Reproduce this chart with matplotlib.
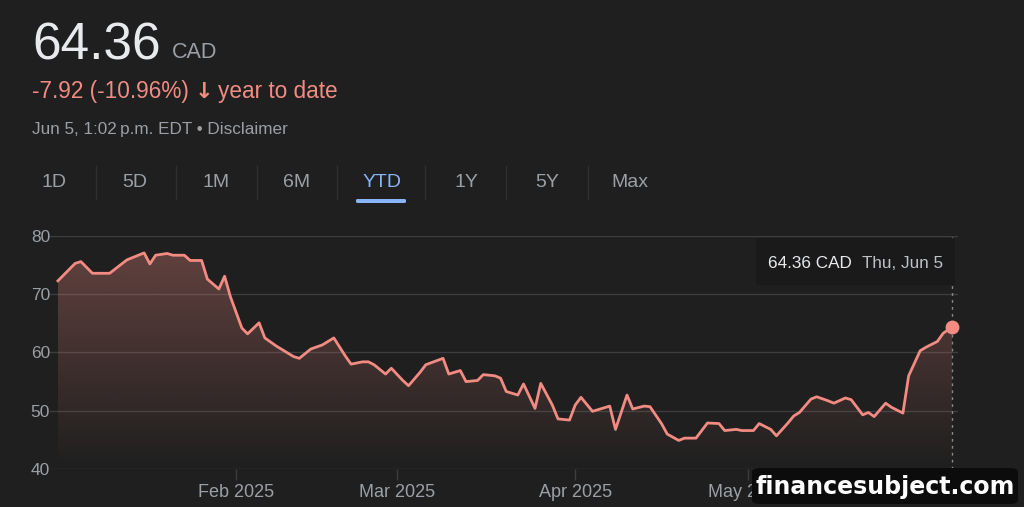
import matplotlib
matplotlib.use("Agg")
from matplotlib import pyplot as plt
from matplotlib.patches import FancyBboxPatch
import matplotlib.dates as mdates
import numpy as np
from datetime import datetime

# price trace (CAD); last point is the 1:02 p.m. quote
dates = [
    "01-01", "01-04", "01-05", "01-07", "01-10", "01-13", "01-16", "01-17", "01-18",
    "01-20", "01-21", "01-23", "01-24", "01-26", "01-27", "01-29", "01-30", "01-31",
    "02-02", "02-03", "02-05", "02-06", "02-08", "02-11", "02-12", "02-14", "02-16",
    "02-18", "02-20", "02-21", "02-23", "02-24", "02-25", "02-27", "02-28",
    "03-02", "03-03", "03-05", "03-06", "03-09", "03-10", "03-12", "03-13", "03-15",
    "03-16", "03-18", "03-19", "03-20", "03-22", "03-23", "03-25", "03-26", "03-28",
    "03-29", "03-31",
    "04-01", "04-02", "04-04", "04-07", "04-08", "04-10", "04-11", "04-13", "04-14",
    "04-16", "04-17", "04-19", "04-20", "04-22", "04-23", "04-24", "04-26", "04-27",
    "04-29", "04-30",
    "05-02", "05-03", "05-05", "05-06", "05-08", "05-09", "05-10", "05-12", "05-13",
    "05-15", "05-16", "05-18", "05-19", "05-21", "05-22", "05-23", "05-25", "05-26",
    "05-28", "05-29", "05-31",
    "06-01", "06-03", "06-04", "06-05 13:02",
]
prices = [
    72.3, 75.3, 75.6, 73.6, 73.6, 75.9, 77.1, 75.2, 76.7,
    77.0, 76.7, 76.7, 75.8, 75.8, 72.6, 70.9, 73.1, 69.6,
    64.2, 63.2, 65.1, 62.5, 61.1, 59.3, 59.0, 60.6, 61.3,
    62.5, 59.4, 58.0, 58.4, 58.4, 57.9, 56.3, 57.3,
    55.2, 54.3, 56.6, 57.9, 59.0, 56.3, 56.9, 55.0, 55.2,
    56.2, 56.0, 55.6, 53.3, 52.7, 54.6, 50.4, 54.7, 51.0,
    48.6, 48.4,
    51.0, 52.3, 49.9, 50.8, 46.8, 52.7, 50.3, 50.8, 50.7,
    47.8, 46.0, 44.9, 45.3, 45.3, 46.6, 47.9, 47.8, 46.6,
    46.8, 46.6,
    46.6, 47.8, 46.8, 45.7, 47.9, 49.1, 49.7, 52.0, 52.4,
    51.7, 51.3, 52.2, 51.9, 49.3, 49.7, 49.0, 51.3, 50.6,
    49.6, 56.0, 60.3,
    60.9, 61.9, 63.3, 64.36,
]
yticks = [40, 50, 60, 70, 80]
month_ticks = ["2025-02-01", "2025-03-01", "2025-04-01", "2025-05-01", "2025-06-01"]
month_labels = ["Feb 2025", "Mar 2025", "Apr 2025", "May 2025", "Jun 2025"]
tabs = ["1D", "5D", "1M", "6M", "YTD", "1Y", "5Y", "Max"]
tab_x = [54, 135, 216, 297, 382, 466, 547, 630]

BG = "#1f1f1f"
RED = "#f28b82"
GREY = "#9aa0a6"
WHITE = "#e8eaed"
FONT = ["Liberation Sans", "DejaVu Sans"]
W, H = 1024, 507


def parse(d):
    fmt = "%Y-%m-%d %H:%M" if " " in d else "%Y-%m-%d"
    return datetime.strptime("2025-" + d, fmt)


xn = mdates.date2num([parse(d) for d in dates])


def fx(px):
    return px / W


def fy(py):
    return 1 - py / H


fig = plt.figure(figsize=(W / 100, H / 100), dpi=100, facecolor=BG)

# header
fig.text(fx(32), fy(60), "64.36", color=WHITE, fontsize=37, family=FONT, va="baseline")
fig.text(fx(172), fy(58), "CAD", color=GREY, fontsize=15.5, family=FONT, va="baseline")
fig.text(fx(32), fy(98), "-7.92 (-10.96%)", color=RED, fontsize=16.3, family=FONT,
         va="baseline")
fig.text(fx(195), fy(98), "\u2193", color=RED, fontsize=16, fontweight="bold",
         family=["DejaVu Sans"], va="baseline")
fig.text(fx(218), fy(98), "year to date", color=RED, fontsize=16.3, family=FONT,
         va="baseline")
fig.text(fx(32), fy(134), "Jun 5, 1:02\u2009p.m. EDT \u2022 Disclaimer", color=GREY,
         fontsize=12.3, family=FONT, va="baseline")

# range tabs
for lbl, tx in zip(tabs, tab_x):
    c = "#8ab4f8" if lbl == "YTD" else GREY
    fig.text(fx(tx), fy(182), lbl, color=c, fontsize=14, family=FONT,
             ha="center", va="center")
for sx in [96, 176, 257, 337, 425, 506, 588]:
    fig.add_artist(plt.Line2D([fx(sx), fx(sx)], [fy(166), fy(199)],
                              color="#2e2f31", lw=1))
fig.add_artist(FancyBboxPatch((fx(356), fy(203)), fx(50), 4 / H,
                              boxstyle="round,pad=0,rounding_size=0.002",
                              fc="#8ab4f8", ec="none"))

# chart
xlim = (datetime(2024, 12, 30, 15), datetime(2025, 6, 6, 14))
ax = fig.add_axes([fx(50), fy(469), fx(908), 233 / H])
ax.set_facecolor(BG)
for s in ax.spines.values():
    s.set_visible(False)
ax.set_yticks(yticks)
ax.yaxis.grid(True, color="#3d3d3d", lw=1)
ax.set_axisbelow(True)
ax.tick_params(axis="y", length=0, pad=0, labelsize=12.5, labelcolor=GREY)
ax.set_xticks(mdates.date2num([datetime.strptime(d, "%Y-%m-%d") for d in month_ticks]))
ax.set_xticklabels(month_labels)
ax.tick_params(axis="x", length=8, width=1, color="#3d3d3d", direction="out",
               pad=3, labelsize=13, labelcolor=GREY)
for t in ax.get_xticklabels() + ax.get_yticklabels():
    t.set_family(FONT)

# gradient fill under the line
poly = ax.fill_between(xn, prices, 40, color="none", lw=0)
grad = np.zeros((256, 1, 4))
grad[:, :, :3] = matplotlib.colors.to_rgb(RED)
grad[:, 0, 3] = np.linspace(0.0, 0.32, 256)
im = ax.imshow(grad, aspect="auto", origin="lower",
               extent=[xn[0], xn[-1], 40, 78], zorder=1)
im.set_clip_path(poly.get_paths()[0], transform=ax.transData)
ax.set_xlim(*xlim)
ax.set_ylim(40, 80)

ax.plot(xn, prices, color=RED, lw=2, zorder=3, solid_joinstyle="round")
ax.axvline(xn[-1], color="#8a8a8a", lw=1, ls=(0, (2, 3)), zorder=2)
ax.plot(xn[-1], prices[-1], "o", ms=10, color=RED, mec="none", zorder=4,
        clip_on=False)

# tooltip
fig.add_artist(FancyBboxPatch((fx(756), fy(285)), fx(199), 47 / H,
                              boxstyle="round,pad=0,rounding_size=0.004",
                              fc="#1a1a1a", ec="none", zorder=5))
fig.text(fx(768), fy(263), "64.36 CAD", color=WHITE, fontsize=12.3, family=FONT,
         va="center", zorder=6)
fig.text(fx(943), fy(263), "Thu, Jun 5", color="#bdc1c6", fontsize=12.3, family=FONT,
         va="center", ha="right", zorder=6)

# watermark
fig.add_artist(FancyBboxPatch((fx(752), fy(504)), fx(266), 36 / H,
                              boxstyle="round,pad=0,rounding_size=0.008",
                              fc="#0c0c0c", ec="none", zorder=7))
fig.text(fx(885), fy(487), "financesubject.com", color="white", fontsize=17,
         fontweight="bold", family=["DejaVu Sans"], ha="center", va="center", zorder=8)

fig.savefig("out.png", dpi=100, facecolor=BG)
